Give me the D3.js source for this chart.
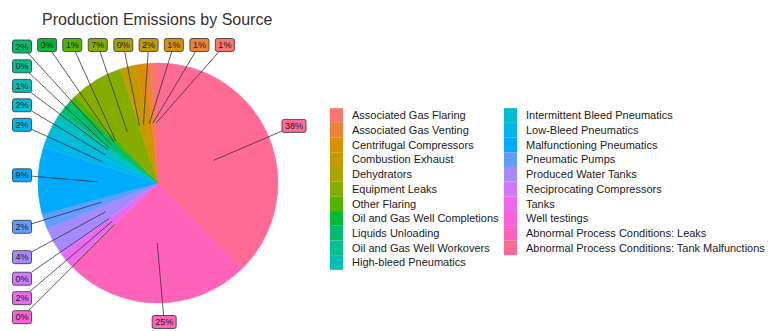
<!DOCTYPE html>
<meta charset='utf-8'>
<style>
body { margin: 0; background: #fff; }
text { font-family: 'Liberation Sans', Arial, sans-serif; }
.title { font-size: 16px; fill: #333; }
.legend text { font-size: 11px; fill: #1a1a1a; }
.labels text { font-size: 9px; fill: #1a1a1a; }
.leaders line { stroke: #333; stroke-width: 0.8px; }
</style>
<svg width='768' height='331'></svg>
<script src='https://d3js.org/d3.v7.min.js'></script>
<script>

var categories = [
  'Associated Gas Flaring', 'Associated Gas Venting', 'Centrifugal Compressors',
  'Combustion Exhaust', 'Dehydrators', 'Equipment Leaks', 'Other Flaring',
  'Oil and Gas Well Completions', 'Liquids Unloading', 'Oil and Gas Well Workovers',
  'High-bleed Pneumatics', 'Intermittent Bleed Pneumatics', 'Low-Bleed Pneumatics',
  'Malfunctioning Pneumatics', 'Pneumatic Pumps', 'Produced Water Tanks',
  'Reciprocating Compressors', 'Tanks', 'Well testings',
  'Abnormal Process Conditions: Leaks', 'Abnormal Process Conditions: Tank Malfunctions'
];

// share of production emissions, percent
var values = [1.0, 0.7, 1.2, 2.0, 0.2, 7.0, 0.8, 0.3, 1.8, 0.2, 1.0, 2.0, 2.0, 9.0,
              2.0, 3.6, 0.4, 1.8, 0.3, 25.0, 37.7];

var title = 'Production Emissions by Source';

var svg = d3.select('svg'),
    width = +svg.attr('width'),
    height = +svg.attr('height');

// ggplot style hue palette (polarLUV, c = 100, l = 65)
function hclLuv(h, c, l) {
  var hr = h * Math.PI / 180,
      u = c * Math.cos(hr), v = c * Math.sin(hr);
  var Xn = 95.047, Yn = 100, Zn = 108.883;
  var Y = Yn * (l > 8 ? Math.pow((l + 16) / 116, 3) : l / 903.3);
  var t = Xn + 15 * Yn + 3 * Zn, un = 4 * Xn / t, vn = 9 * Yn / t;
  var up = u / (13 * l) + un, vp = v / (13 * l) + vn;
  var X = Y * 9 * up / (4 * vp),
      Z = Y * (12 - 3 * up - 20 * vp) / (4 * vp);
  X /= 100; Y /= 100; Z /= 100;
  var rgb = [
    3.2406 * X - 1.5372 * Y - 0.4986 * Z,
    -0.9689 * X + 1.8758 * Y + 0.0415 * Z,
    0.0557 * X - 0.2040 * Y + 1.0570 * Z
  ].map(function(x) {
    x = x <= 0.0031308 ? 12.92 * x : 1.055 * Math.pow(x, 1 / 2.4) - 0.055;
    return Math.round(255 * Math.max(0, Math.min(1, x)));
  });
  return d3.rgb(rgb[0], rgb[1], rgb[2]).formatHex();
}

var n = categories.length;
var hues = d3.range(n).map(function(i) { return 15 + i * 360 / n; });
var color = d3.scaleOrdinal()
  .domain(categories)
  .range(hues.map(function(h) { return hclLuv(h, 100, 65); }));

// title
svg.append('text')
  .attr('class', 'title')
  .attr('x', 42)
  .attr('y', 25)
  .text(title);

// pie (last level starts at 12 o'clock, going clockwise)
var cx = 158, cy = 183, radius = 120;

var pie = d3.pie()
  .sort(null)
  .value(function(i) { return values[i]; });

var arcs = pie(d3.range(n).reverse());

var arc = d3.arc().innerRadius(0).outerRadius(radius);

var g = svg.append('g').attr('transform', 'translate(' + cx + ',' + cy + ')');

g.selectAll('path')
  .data(arcs)
  .enter().append('path')
    .attr('d', arc)
    .attr('fill', function(d) { return color(categories[d.data]); })
    .attr('stroke', function(d) { return color(categories[d.data]); })
    .attr('stroke-width', 0.5);

// ---- repelled labels along a rectangular track around the pie ----
var trackL = 22, trackT = 45, trackR = 294, trackB = 322;
var tw = trackR - trackL, th = trackB - trackT, P = 2 * tw + 2 * th;
var rayX = cx + 8, rayY = cy - 5;   // projection origin, nudged like ggrepel's drift

function rayToTrack(a) {
  var dx = Math.sin(a), dy = -Math.cos(a), ts = [];
  if (dx > 1e-9) ts.push((trackR - rayX) / dx);
  if (dx < -1e-9) ts.push((trackL - rayX) / dx);
  if (dy > 1e-9) ts.push((trackB - rayY) / dy);
  if (dy < -1e-9) ts.push((trackT - rayY) / dy);
  var t = d3.min(ts);
  return [rayX + dx * t, rayY + dy * t];
}

function toS(p) {
  if (Math.abs(p[1] - trackT) < 1e-6) return p[0] - trackL;
  if (Math.abs(p[0] - trackR) < 1e-6) return tw + p[1] - trackT;
  if (Math.abs(p[1] - trackB) < 1e-6) return tw + th + trackR - p[0];
  return 2 * tw + th + trackB - p[1];
}

function fromS(s) {
  s = ((s % P) + P) % P;
  if (s < tw) return [trackL + s, trackT];
  if (s < tw + th) return [trackR, trackT + s - tw];
  if (s < 2 * tw + th) return [trackR - (s - tw - th), trackB];
  return [trackL, trackB - (s - 2 * tw - th)];
}

var s0 = toS(rayToTrack(0));

var labels = arcs.map(function(d) {
  var mid = (d.startAngle + d.endAngle) / 2;
  var s = toS(rayToTrack(mid));
  return {
    key: categories[d.data],
    text: Math.round(values[d.data]) + '%',
    anchor: [cx + 0.5 * radius * Math.sin(mid), cy - 0.5 * radius * Math.cos(mid)],
    s: s0 + ((s - s0 + P) % P)
  };
});

var leaderLayer = svg.append('g').attr('class', 'leaders');
var labelLayer = svg.append('g').attr('class', 'labels');

var lab = labelLayer.selectAll('g')
  .data(labels)
  .enter().append('g');

lab.append('rect')
  .attr('rx', 2)
  .attr('ry', 2)
  .attr('fill', function(d) { return color(d.key); })
  .attr('stroke', '#333')
  .attr('stroke-width', 0.8);

lab.append('text')
  .attr('text-anchor', 'middle')
  .attr('dy', '0.35em')
  .text(function(d) { return d.text; });

lab.each(function(d) {
  d.w = this.querySelector('text').getComputedTextLength() + 6;
  d.h = 13;
});

// push overlapping neighbours apart, favouring the clockwise direction
var pad = 6;
for (var it = 0; it < 4000; it++) {
  var moved = false;
  for (var i = 0; i < labels.length - 1; i++) {
    var a = labels[i], b = labels[i + 1],
        pa = fromS(a.s), pb = fromS(b.s);
    if (Math.abs(pa[0] - pb[0]) < (a.w + b.w) / 2 + pad &&
        Math.abs(pa[1] - pb[1]) < (a.h + b.h) / 2 + pad) {
      a.s -= 0.35; b.s += 0.65; moved = true;
    }
  }
  if (!moved) break;
}

labels.forEach(function(d) { d.pos = fromS(d.s); });

lab.attr('transform', function(d) { return 'translate(' + d.pos[0] + ',' + d.pos[1] + ')'; });
lab.select('rect')
  .attr('x', function(d) { return -d.w / 2; })
  .attr('y', function(d) { return -d.h / 2; })
  .attr('width', function(d) { return d.w; })
  .attr('height', function(d) { return d.h; });

function boxEdge(d) {
  var dx = d.anchor[0] - d.pos[0], dy = d.anchor[1] - d.pos[1];
  var t = Math.min(Math.abs(dx) > 1e-9 ? (d.w / 2) / Math.abs(dx) : Infinity,
                   Math.abs(dy) > 1e-9 ? (d.h / 2) / Math.abs(dy) : Infinity);
  return [d.pos[0] + dx * t, d.pos[1] + dy * t];
}

leaderLayer.selectAll('line')
  .data(labels)
  .enter().append('line')
    .attr('x1', function(d) { return boxEdge(d)[0]; })
    .attr('y1', function(d) { return boxEdge(d)[1]; })
    .attr('x2', function(d) { return d.anchor[0]; })
    .attr('y2', function(d) { return d.anchor[1]; });

// ---- legend: two columns ----
var perCol = Math.ceil(n / 2);
var step = 14.7;
var colX = d3.scaleOrdinal().domain([0, 1]).range([330, 504]);
var rowY = d3.scaleLinear().domain([0, 1]).range([115.5, 115.5 + step]);

var legend = svg.append('g').attr('class', 'legend')
  .selectAll('g')
  .data(categories)
  .enter().append('g')
    .attr('transform', function(d, i) {
      return 'translate(' + colX(Math.floor(i / perCol)) + ',' + rowY(i % perCol) + ')';
    });

legend.append('rect')
  .attr('x', 0)
  .attr('y', -step / 2)
  .attr('width', 13)
  .attr('height', step)
  .attr('fill', function(d) { return color(d); });

legend.append('text')
  .attr('x', 22)
  .attr('dy', '0.35em')
  .text(function(d) { return d; });

</script>
